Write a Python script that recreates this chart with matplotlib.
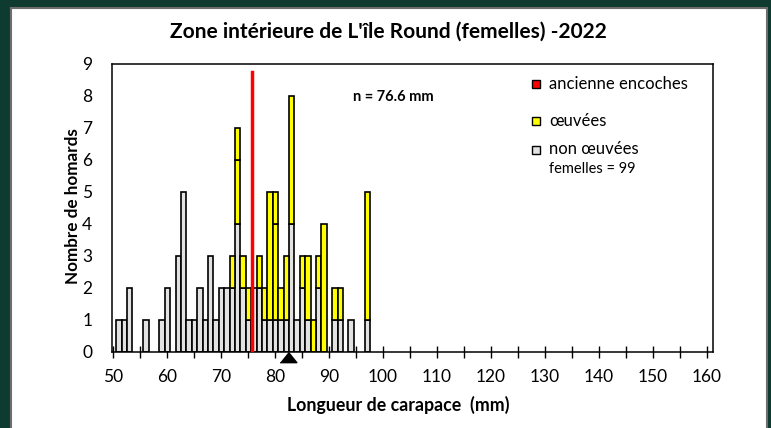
import numpy as np
import matplotlib
matplotlib.use('Agg')
import matplotlib.pyplot as plt
import matplotlib as mpl
from matplotlib.patches import Rectangle

mpl.rcParams['font.family'] = ['Lato', 'DejaVu Sans']
mpl.rcParams['font.size'] = 12

# longueur de carapace (mm) et nombre de homards par classe
longueur = [51, 52, 53, 56, 59, 60, 62, 63, 64, 65, 66, 67, 68, 69, 70, 71, 72, 73, 74,
            75, 76, 77, 78, 79, 80, 81, 82, 83, 84, 85, 86, 87, 88, 89, 91, 92, 94, 97]
non_oeuvees = [1, 1, 2, 1, 1, 2, 3, 5, 1, 1, 2, 1, 3, 1, 2, 2, 2, 4, 2,
               1, 2, 2, 1, 1, 1, 1, 1, 4, 1, 2, 1, 0, 2, 0, 1, 1, 1, 1]
oeuvees = [0, 0, 0, 0, 0, 0, 0, 0, 0, 0, 0, 0, 0, 0, 0, 0, 1, 2, 1,
           1, 0, 1, 1, 4, 3, 1, 2, 4, 0, 1, 2, 1, 1, 4, 1, 1, 0, 4]
oeuvees_haut = [0, 0, 0, 0, 0, 0, 0, 0, 0, 0, 0, 0, 0, 0, 0, 0, 0, 1, 0,
                0, 0, 0, 0, 0, 1, 0, 0, 0, 0, 0, 0, 0, 0, 0, 0, 0, 0, 0]
ancienne_encoches = [0] * len(longueur)

moyenne_ligne = 75.8   # position de la ligne rouge
taille_min = 82.5      # taille minimale (triangle)
n_femelles = 99

W, H = 771, 428
def px(x, y):
    return (x / W, 1 - y / H)

grey = '#e2e2e2'
yellow = '#ffff00'
red = '#ff0000'

fig = plt.figure(figsize=(W / 100, H / 100), dpi=100, facecolor='#0f3a2f')
fig.patches.append(Rectangle(px(11, 430), (767 - 11) / W, (430 - 8) / H,
                             transform=fig.transFigure, facecolor='white',
                             edgecolor='#6e6e6e', lw=1.5, zorder=-5))

l, r, t, b = 111.7, 712.7, 64, 352
ax = fig.add_axes([l / W, 1 - b / H, (r - l) / W, (b - t) / H])
ax.set_facecolor('white')
ax.set_zorder(1)

x = np.array(longueur) + 0.15
g = np.array(non_oeuvees)
y1 = np.array(oeuvees)
y2 = np.array(oeuvees_haut)
rr = np.array(ancienne_encoches)

m = g > 0
ax.bar(x[m], g[m], width=1.0, color=grey, edgecolor='black', lw=1.2, zorder=2)
m = y1 > 0
ax.bar(x[m], y1[m], bottom=g[m], width=1.0, color=yellow, edgecolor='black', lw=1.2, zorder=2)
m = y2 > 0
ax.bar(x[m], y2[m], bottom=(g + y1)[m], width=1.0, color=yellow, edgecolor='black', lw=1.2, zorder=2)
m = rr > 0
ax.bar(x[m], rr[m], bottom=(g + y1 + y2)[m], width=1.0, color=red, edgecolor='black', lw=1.2, zorder=2)

ax.plot([moyenne_ligne, moyenne_ligne], [0, 8.76], color=red, lw=2.5, zorder=3)
tri = [(-1, -0.62), (1, -0.62), (0, 0.62)]
ax.plot([taille_min], [-0.16], marker=tri, color='black', markersize=12, clip_on=False, zorder=4)

ax.set_xlim(49.8, 161.1)
ax.set_ylim(0, 9)
ax.set_xticks(range(50, 161, 10))
ax.set_xticks(range(55, 160, 10), minor=True)
ax.set_yticks(range(0, 10))
ax.tick_params(axis='x', which='both', direction='inout', length=8, width=1, pad=8, labelsize=12.5)
ax.tick_params(axis='y', length=0, pad=14, labelsize=12.5)
for s in ax.spines.values():
    s.set_linewidth(1.1)

fig.text(*px(388, 32), "Zone intérieure de L'île Round (femelles) -2022", ha='center', va='center',
         fontsize=15, fontweight='bold')
fig.text(*px(398, 405), 'Longueur de carapace  (mm)', ha='center', va='center',
         fontsize=12.8, fontweight='bold')
fig.text(*px(73, 206), 'Nombre de homards', ha='center', va='center', rotation=90,
         fontsize=12.3, fontweight='bold')
fig.text(*px(353, 97), 'n = 76.6 mm', ha='left', va='center', fontsize=10.5, fontweight='bold')

leg = [('ancienne encoches', red, 84), ('œuvées', yellow, 120.5), ('non œuvées', grey, 149.5)]
for lab, c, yy in leg:
    fig.patches.append(Rectangle(px(532, yy + 4), 8 / W, 8 / H, transform=fig.transFigure,
                                 facecolor=c, edgecolor='black', lw=1, zorder=5))
    fig.text(*px(549, yy), lab, ha='left', va='center', fontsize=12, zorder=6)
fig.text(*px(549, 169), 'femelles = %d' % n_femelles, ha='left', va='center', fontsize=10.5, zorder=6)

fig.savefig('out.png', dpi=100, facecolor=fig.get_facecolor())
